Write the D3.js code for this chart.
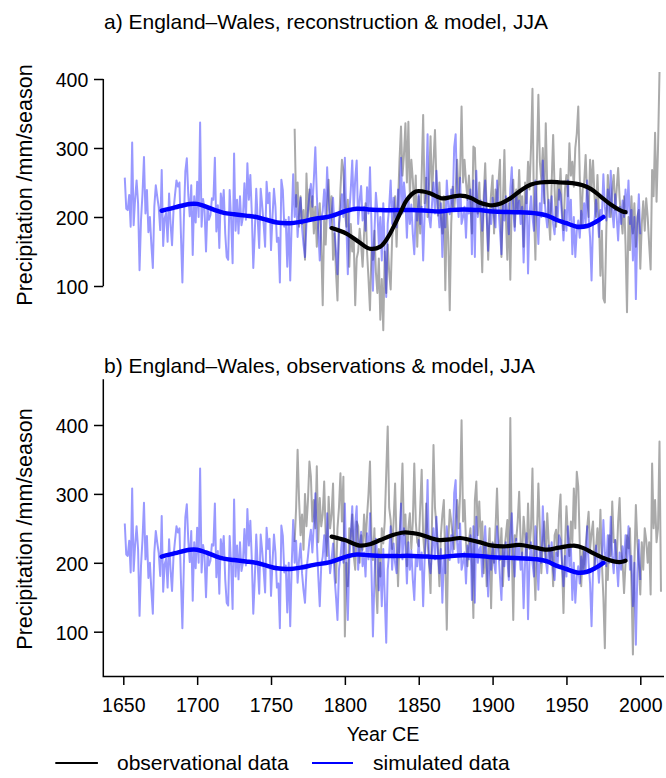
<!DOCTYPE html>
<html>
<head>
<meta charset="utf-8">
<script src="https://cdn.jsdelivr.net/npm/d3@7"></script>
<style>
  body { margin: 0; background: #fff; }
  svg { display: block; font-family: "Liberation Sans", Arial, Helvetica, sans-serif; }
</style>
</head>
<body>
<div id="chart"></div>
<script>
// England-Wales JJA precipitation, two panels
var svgWidth = 666;
var svgHeight = 778;

// model run (simulated), one value per year from simStart
var simStart = 1651;
var simValues = [
  257,212,210,232,186,308,188,226,253,220, 123,196,234,287,205,239,178,200,160,126,
  215,246,229,214,181,268,158,198,206,164, 234,190,159,210,232,253,244,250,176,105,
  196,266,285,232,201,246,145,230,192,251, 200,337,186,226,210,150,214,196,203,227,
  225,286,179,217,155,234,210,239,176,142, 138,239,196,133,292,180,225,176,230,188,
  200,249,196,278,225,261,205,126,176,241, 196,155,241,218,190,157,251,220,235,152,
  200,241,215,164,170,105,254,239,186,196, 128,200,108,195,262,200,232,171,205,228,
  185,160,142,190,209,232,248,215,255,301, 233,180,137,196,209,240,200,272,220,185,
  205,228,180,150,117,190,208,233,200,286, 190,117,205,240,282,210,255,282,190,224,
  245,195,215,180,243,205,272,190,93,175,  235,209,160,200,137,220,150,84,190,215,
  253,190,228,200,185,240,215,286,205,250, 224,170,230,190,218,175,146,210,195,233,
  190,215,137,205,240,320,200,185,219,250, 205,267,215,185,220,142,210,185,253,215,
  204,240,215,301,320,230,200,257,190,200, 215,170,225,205,240,146,253,142,267,200,
  219,224,180,215,253,200,151,210,190,228, 200,185,253,215,180,146,220,195,230,205,
  175,240,272,210,180,235,205,224,190,215, 134,200,243,118,204,230,200,180,253,210,
  161,220,200,282,230,205,185,225,204,230, 190,175,215,195,240,233,200,166,210,180,
  253,195,225,146,200,142,180,195,170,209, 185,220,190,253,200,170,108,190,195,225,
  205,171,210,200,262,215,195,240,200,267, 210,185,233,200,166,215,190,224,200,240,
  205,253,190,210,137,200,81,185,233,175
];

// reconstruction (panel a), from reconStart
var reconStart = 1766;
var reconValues = [
  328,215,250,186,230,190,210,138,263,200, 240,195,230,176,215,157,190,220,160,72,
  200,160,215,254,200,230,138,176,120,79,  180,240,283,268,210,186,225,128,190,150,
  168,72,140,150,183,160,128,175,220,150,  110,65,150,138,180,120,90,140,51,110,
  36,150,90,160,120,95,170,196,230,157,    220,283,331,260,290,336,250,338,230,283,
  254,210,260,157,230,176,260,348,220,257, 200,250,317,230,280,326,250,202,250,200,
  176,230,94,210,170,65,190,244,210,240,   283,230,260,360,250,283,251,225,260,227,
  176,302,300,227,205,250,190,120,230,278, 210,138,200,234,260,176,240,220,250,283,
  142,220,297,200,138,220,109,230,254,186, 240,210,268,210,230,157,250,220,280,240,
  300,386,210,138,280,377,280,254,300,220, 336,244,200,167,250,319,240,186,250,225,
  270,210,181,240,261,230,307,260,280,244, 300,321,360,260,186,240,250,290,230,200,
  283,240,282,230,200,261,200,115,180,82,  76,180,261,230,200,240,261,210,240,271,
  227,200,176,230,160,62,200,152,230,176,  220,157,200,210,125,190,223,180,227,200,
  160,124,268,230,322,222,300,410
];

// observations (panel b), from obsStart
var obsStart = 1766;
var obsValues = [
  230,280,364,291,240,270,219,300,253,290, 347,325,260,291,250,340,230,294,253,270,
  318,240,210,296,250,270,315,209,171,250, 280,330,260,325,93,200,166,250,233,270,
  210,190,260,253,200,240,219,270,230,267, 300,347,240,204,250,170,127,220,180,250,
  228,260,330,398,280,262,220,260,315,230, 166,240,280,344,240,270,195,250,272,220,
  260,344,260,230,224,280,335,240,210,286, 230,200,156,260,371,280,253,220,166,240,
  270,291,200,103,230,277,260,238,220,260, 291,250,300,407,260,291,230,195,233,250,
  200,120,291,318,240,289,230,260,185,230, 166,210,250,134,230,200,250,308,240,204,
  250,166,220,240,262,180,410,220,117,240, 233,260,303,230,210,267,240,204,286,220,
  250,337,200,146,240,315,250,185,230,260, 200,272,230,200,220,166,240,248,210,270,
  299,200,127,220,282,240,210,260,230,308, 250,332,311,230,166,220,190,224,250,274,
  220,243,260,190,220,250,210,277,200,150, 76,200,175,240,210,289,230,233,200,260,
  294,220,200,156,200,240,221,250,170,67,  200,284,230,200,154,230,190,250,233,200,
  230,154,344,250,291,230,250,376,158
];

// smoothed curves
var simSmoothYears  = [1676,1685,1695,1700,1706,1712,1718,1725,1733,1740,1747,1754,1763,1770,1779,1790,1801,1808,1816,1824,1835,1846,1856,1864,1872,1880,1891,1900,1915,1930,1937,1943,1950,1957,1964,1970,1975];
var simSmoothValues = [209,214,219,219,215,210,206,204,202,200,196,192,191,193,197,201,209,212,211,210,210,210,209,208,210,211,210,208,207,205,202,196,191,186,187,193,200];

var reconSmoothYears  = [1791,1801,1810,1817,1824,1829,1833,1838,1842,1848,1853,1858,1866,1872,1878,1885,1891,1896,1900,1906,1912,1920,1926,1932,1940,1946,1954,1961,1967,1973,1980,1988,1990];
var reconSmoothValues = [184,176,163,154,157,170,186,208,225,237,237,234,227,229,231,228,221,218,217,220,227,240,247,250,251,250,249,246,240,230,218,208,207];

var obsSmoothYears  = [1791,1800,1810,1817,1824,1832,1840,1846,1851,1858,1864,1871,1878,1885,1891,1900,1909,1918,1927,1937,1945,1955,1962,1968,1975,1982,1986,1990];
var obsSmoothValues = [238,233,225,227,233,240,244,243,241,236,233,234,236,233,230,225,224,226,223,219,222,225,221,214,207,202,201,203];

var yTicks = [100, 200, 300, 400];
var xTicks = [1650, 1700, 1750, 1800, 1850, 1900, 1950, 2000];

var svg = d3.select("#chart")
  .append("svg")
  .attr("width", svgWidth)
  .attr("height", svgHeight);

svg.append("rect").attr("width", svgWidth).attr("height", svgHeight).attr("fill", "#fff");

var plotLeft = 103.3;
var plotRight = 664;

var x = d3.scaleLinear().domain([1650, 2000]).range([123.3, 640.3]);

var panels = [
  {
    title: "a) England\u2013Wales, reconstruction & model, JJA",
    titleY: 29,
    y: d3.scaleLinear().domain([100, 400]).range([286, 79]),
    obsStart: reconStart, obs: reconValues,
    smYears: reconSmoothYears, smValues: reconSmoothValues,
    labelY: 185,
    box: false
  },
  {
    title: "b) England\u2013Wales, observations & model, JJA",
    titleY: 373,
    y: d3.scaleLinear().domain([100, 400]).range([631.7, 425]),
    obsStart: obsStart, obs: obsValues,
    smYears: obsSmoothYears, smValues: obsSmoothValues,
    labelY: 529,
    box: true
  }
];

panels.forEach(function(p) {
  var g = svg.append("g");

  var rawLine = function(start) {
    return d3.line()
      .x(function(d, i) { return x(start + i); })
      .y(function(d) { return p.y(d); });
  };

  var smoothLine = d3.line()
    .x(function(d) { return x(d[0]); })
    .y(function(d) { return p.y(d[1]); })
    .curve(d3.curveCatmullRom.alpha(0.5));

  // grey annual series
  g.append("path")
    .datum(p.obs)
    .attr("d", rawLine(p.obsStart))
    .attr("fill", "none")
    .attr("stroke", "#aaaaaa")
    .attr("stroke-width", 2)
    .attr("stroke-linejoin", "round");

  // simulated annual series (transparent blue)
  g.append("path")
    .datum(simValues)
    .attr("d", rawLine(simStart))
    .attr("fill", "none")
    .attr("stroke", "rgba(0,0,255,0.4)")
    .attr("stroke-width", 2)
    .attr("stroke-linejoin", "round");

  // smoothed model
  g.append("path")
    .datum(d3.zip(simSmoothYears, simSmoothValues))
    .attr("d", smoothLine)
    .attr("fill", "none")
    .attr("stroke", "#0000ff")
    .attr("stroke-width", 4.5)
    .attr("stroke-linecap", "round");

  // smoothed observations / reconstruction
  g.append("path")
    .datum(d3.zip(p.smYears, p.smValues))
    .attr("d", smoothLine)
    .attr("fill", "none")
    .attr("stroke", "#000")
    .attr("stroke-width", 4.2)
    .attr("stroke-linecap", "round");

  // y axis
  var yAxis = g.append("g")
    .attr("transform", "translate(" + plotLeft + ",0)")
    .call(d3.axisLeft(p.y).tickValues(yTicks).tickSize(9.3).tickSizeOuter(0).tickPadding(5.7));
  yAxis.select(".domain").remove();
  yAxis.selectAll(".tick line").attr("stroke", "#000").attr("stroke-width", 1.5);
  yAxis.selectAll(".tick text")
    .attr("font-size", "19.5px")
    .attr("font-family", "Liberation Sans, Arial, sans-serif")
    .attr("fill", "#000")
    .attr("dy", "0.4em");

  if (p.box) {
    g.append("path")
      .attr("d", "M" + plotLeft + ",379.3V676.5H" + plotRight)
      .attr("fill", "none")
      .attr("stroke", "#000")
      .attr("stroke-width", 1.5);
  } else {
    g.append("line")
      .attr("x1", plotLeft).attr("x2", plotLeft)
      .attr("y1", p.y(100)).attr("y2", p.y(400))
      .attr("stroke", "#000")
      .attr("stroke-width", 1.5);
  }

  // title
  svg.append("text")
    .attr("x", 104)
    .attr("y", p.titleY)
    .attr("font-size", "21px")
    .text(p.title);

  // y label
  svg.append("text")
    .attr("transform", "translate(31.5," + p.labelY + ") rotate(-90)")
    .attr("text-anchor", "middle")
    .attr("font-size", "21.5px")
    .text("Precipitation /mm/season");
});

// x axis, bottom panel only
var xAxis = svg.append("g")
  .attr("transform", "translate(0,676.5)")
  .call(d3.axisBottom(x).tickValues(xTicks).tickFormat(d3.format("d")).tickSize(8.5).tickSizeOuter(0).tickPadding(12.7));
xAxis.select(".domain").remove();
xAxis.selectAll(".tick line").attr("stroke", "#000").attr("stroke-width", 1.5);
xAxis.selectAll(".tick text")
  .attr("font-size", "19.5px")
  .attr("font-family", "Liberation Sans, Arial, sans-serif")
  .attr("fill", "#000");

svg.append("text")
  .attr("x", 383)
  .attr("y", 741)
  .attr("text-anchor", "middle")
  .attr("font-size", "19.7px")
  .text("Year CE");

// legend
var legendItems = [
  { label: "observational data", color: "#000", x1: 55.3, x2: 97.9, tx: 117 },
  { label: "simulated data", color: "#0000ff", x1: 312, x2: 353, tx: 373 }
];
var legend = svg.append("g");
legendItems.forEach(function(d) {
  legend.append("line")
    .attr("x1", d.x1).attr("x2", d.x2)
    .attr("y1", 763).attr("y2", 763)
    .attr("stroke", d.color)
    .attr("stroke-width", 1.8);
  legend.append("text")
    .attr("x", d.tx)
    .attr("y", 770)
    .attr("font-size", "21px")
    .text(d.label);
});
</script>
</body>
</html>
